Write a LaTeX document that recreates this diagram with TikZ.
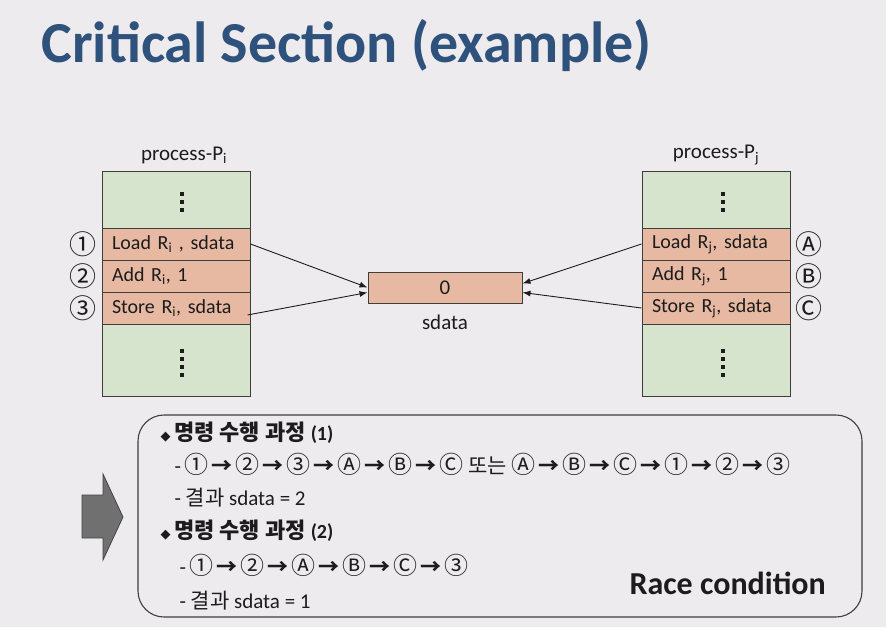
\documentclass[tikz,border=0pt]{standalone}
\usepackage{fontspec}
\setmainfont{Carlito}
\newfontfamily\kr{Noto Sans CJK KR}
\newfontfamily\sym{DejaVu Sans}
\usepackage{xcolor}
\usetikzlibrary{arrows.meta}
\definecolor{bgc}{RGB}{237,235,238}
\definecolor{ttl}{RGB}{46,82,124}
\definecolor{grn}{RGB}{214,227,205}
\definecolor{slm}{RGB}{231,185,162}
\definecolor{edg}{RGB}{62,62,62}
\definecolor{ink}{RGB}{28,28,28}
\definecolor{blk}{RGB}{112,112,112}
\newcommand{\cd}[1]{{\kr\fontsize{24}{26}\selectfont #1}}
\newcommand{\toarr}{\hspace{3pt}{\kr\bfseries →}\hspace{3pt}}
\tikzset{ft/.style={font=\fontsize{21}{25}\selectfont,text=ink},
 gb/.style={draw=edg,fill=grn,minimum width=148pt,line width=1pt},
 rw/.style={draw=edg,fill=slm,minimum height=32pt,line width=1pt,text width=128pt,inner xsep=10pt,align=left,font=\fontsize{20}{24}\selectfont,text=ink},
 cl/.style={font=\kr\fontsize{27}{29}\selectfont,text=ink},
 flow/.style={-{Latex[length=8pt,width=6pt]},line width=.9pt,draw=ink},
 tx/.style={anchor=base west,ft},
 hd/.style={anchor=base west,font=\kr\bfseries\fontsize{22}{26}\selectfont,text=ink}}

\begin{document}
\begin{tikzpicture}[x=1pt,y=-1pt]
\fill[bgc](0,0)rectangle(886,627);
\useasboundingbox(0,0)rectangle(886,627);
\node[anchor=base west,text=ttl,font=\bfseries\fontsize{58}{64}\selectfont](title) at (38,62){Critical Section (example)};
% process P_i
\node[ft](lpi) at (184,155){process-P\textsubscript{i}};
\node[gb,minimum height=57pt](lt) at (176,199.5){};
\node[rw](l1) at (176,244){Load R\textsubscript{i} , sdata};
\node[rw](l2) at (176,276){Add R\textsubscript{i}, 1};
\node[rw](l3) at (176,308){Store R\textsubscript{i}, sdata};
\node[gb,minimum height=72pt](lb) at (176,360){};
\node[cl](c1) at (83,244){①};\node[cl](c2) at (83,276){②};\node[cl](c3) at (83,308){③};
% process P_j
\node[ft](lpj) at (716,155){process-P\textsubscript{j}};
\node[gb,minimum height=57pt](rt) at (716,199.5){};
\node[rw](r1) at (716,244){Load R\textsubscript{j}, sdata};
\node[rw](r2) at (716,276){Add R\textsubscript{j}, 1};
\node[rw](r3) at (716,308){Store R\textsubscript{j}, sdata};
\node[gb,minimum height=72pt](rb) at (716,360){};
\node[cl](ca) at (809,244){Ⓐ};\node[cl](cb) at (809,276){Ⓑ};\node[cl](cc) at (809,308){Ⓒ};
\foreach \xx in {180,721}{\foreach \yy in {192,200,208}\fill[ink](\xx,\yy)rectangle++(4,4);
 \foreach \yy in {349,357,365,373}\fill[ink](\xx,\yy)rectangle++(4,4);}
% shared data
\node[draw=edg,fill=slm,line width=1pt,minimum width=154pt,minimum height=31pt,ft](sd) at (445,287.5){0};
\node[ft](sdl) at (445,322){sdata};
\draw[flow](l1.east)--(sd.west);
\draw[flow]([xshift=-3pt,yshift=-7pt]l3.east)--([yshift=-5pt]sd.west);
\draw[flow](r1.west)--([yshift=4pt]sd.east);
\draw[flow](r3.west)--([yshift=-5pt]sd.east);
% result box
\draw[blk!60!black,fill=blk,line width=.8pt](82,495)--(103,495)--(103,474)--(123,517)--(103,560)--(103,538)--(82,538)--cycle;
\node[draw=edg,line width=1.1pt,rounded corners=26pt,minimum width=724pt,minimum height=202pt](res) at (500,516){};
\node[hd](h1) at (157,440){{\sym\fontsize{13}{14}\selectfont ◆}\,명령 수행 과정 {\rmfamily\bfseries\fontsize{20}{24}\selectfont(1)}};
\node[tx](s1) at (171,473){-\,\cd{①}\toarr\cd{②}\toarr\cd{③}\toarr\cd{Ⓐ}\toarr\cd{Ⓑ}\toarr\cd{Ⓒ} {\kr 또는} \cd{Ⓐ}\toarr\cd{Ⓑ}\toarr\cd{Ⓒ}\toarr\cd{①}\toarr\cd{②}\toarr\cd{③}};
\node[tx](s2) at (171,505){- {\kr 결과} sdata = 2};
\node[hd](h2) at (157,538){{\sym\fontsize{13}{14}\selectfont ◆}\,명령 수행 과정 {\rmfamily\bfseries\fontsize{20}{24}\selectfont(2)}};
\node[tx](s3) at (176,574){-\,\cd{①}\toarr\cd{②}\toarr\cd{Ⓐ}\toarr\cd{Ⓑ}\toarr\cd{Ⓒ}\toarr\cd{③}};
\node[tx](s4) at (176,608){- {\kr 결과} sdata = 1};
\node[anchor=base west,font=\bfseries\fontsize{32}{36}\selectfont,text=ink](rc) at (626,594){Race condition};
\end{tikzpicture}
\end{document}
